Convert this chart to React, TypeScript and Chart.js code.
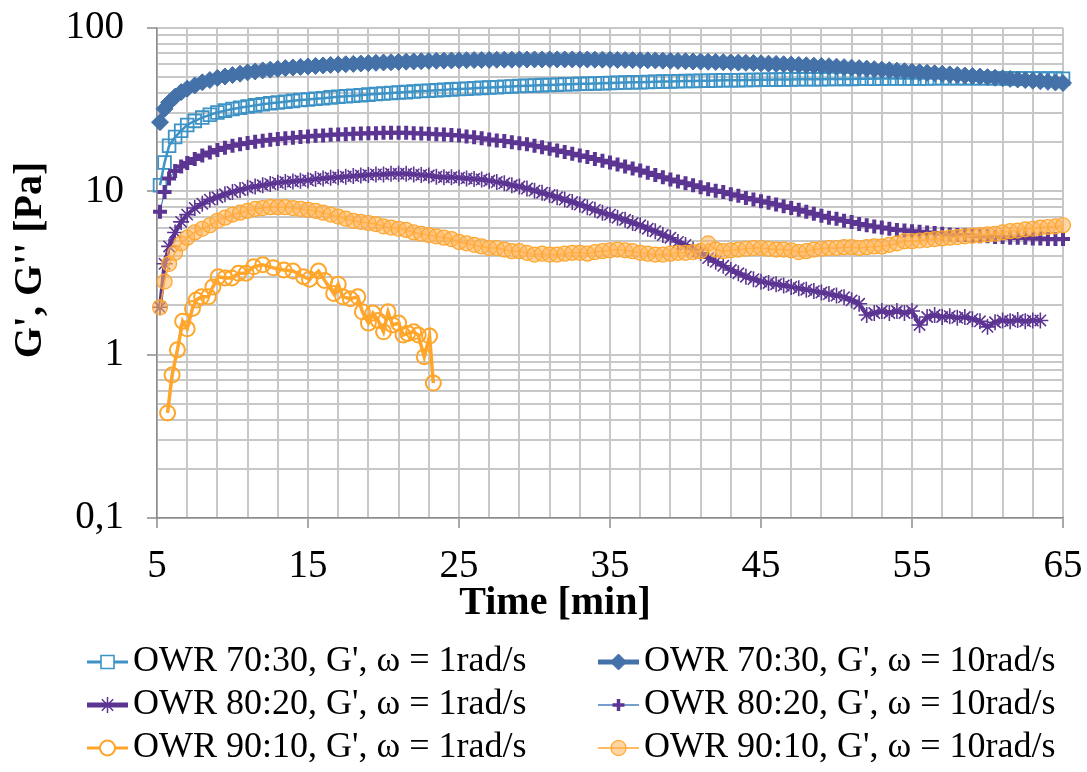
import React, { useEffect, useRef } from "react";
import { Chart, registerables } from "chart.js";

Chart.register(...registerables);

const FONT = "'Liberation Serif', 'Times New Roman', serif";

// Time grid (min) shared by the long series
const TIME = [5.2, 5.5, 5.8, 6.2, 6.6,
  7, 7.5, 8, 8.5, 9, 9.5,
  10, 10.5, 11, 11.5, 12, 12.5, 13, 13.5, 14, 14.5,
  15, 15.5, 16, 16.5, 17, 17.5, 18, 18.5, 19, 19.5,
  20, 20.5, 21, 21.5, 22, 22.5, 23, 23.5, 24, 24.5,
  25, 25.5, 26, 26.5, 27, 27.5, 28, 28.5, 29, 29.5,
  30, 30.5, 31, 31.5, 32, 32.5, 33, 33.5, 34, 34.5,
  35, 35.5, 36, 36.5, 37, 37.5, 38, 38.5, 39, 39.5,
  40, 40.5, 41, 41.5, 42, 42.5, 43, 43.5, 44, 44.5,
  45, 45.5, 46, 46.5, 47, 47.5, 48, 48.5, 49, 49.5,
  50, 50.5, 51, 51.5, 52, 52.5, 53, 53.5, 54, 54.5,
  55, 55.5, 56, 56.5, 57, 57.5, 58, 58.5, 59, 59.5,
  60, 60.5, 61, 61.5, 62, 62.5, 63, 63.5, 64, 64.5,
  65];

// OWR 70:30, G', 1 rad/s
const G70_1 = [10.9, 15, 19, 21.5, 23.5,
  25.5, 27, 28.3, 29.4, 30.4, 31.2,
  31.9, 32.5, 33.1, 33.6, 34.1, 34.6, 35, 35.4, 35.8, 36.2,
  36.5, 36.9, 37.2, 37.6, 37.9, 38.2, 38.5, 38.8, 39.1, 39.4,
  39.7, 40, 40.3, 40.5, 40.8, 41.1, 41.3, 41.6, 41.8, 42.1,
  42.3, 42.5, 42.8, 43, 43.2, 43.4, 43.7, 43.9, 44.1, 44.3,
  44.5, 44.7, 44.8, 45, 45.2, 45.3, 45.5, 45.6, 45.8, 45.9,
  46.1, 46.2, 46.4, 46.5, 46.6, 46.7, 46.9, 47, 47.1, 47.2,
  47.3, 47.4, 47.5, 47.6, 47.7, 47.8, 47.9, 47.9, 48, 48.1,
  48.2, 48.2, 48.3, 48.4, 48.4, 48.5, 48.5, 48.6, 48.6, 48.7,
  48.7, 48.8, 48.8, 48.9, 48.9, 48.9, 49, 49, 49, 49.1,
  49.1, 49.1, 49.1, 49.2, 49.2, 49.2, 49.2, 49.2, 49.2, 49.2,
  49.2, 49.2, 49.2, 49.1, 49.1, 49.1, 49.1, 49, 49, 49,
  48.9];

// OWR 70:30, G', 10 rad/s
const G70_10 = [26.5, 32, 35, 38, 40.5,
  42.5, 44.5, 46.5, 48, 49.5, 50.5,
  51.5, 52.5, 53.5, 54.2, 55, 55.6, 56.2, 56.8, 57.3, 57.8,
  58.2, 58.6, 59, 59.4, 59.7, 60, 60.3, 60.6, 60.9, 61.2,
  61.5, 61.7, 62, 62.2, 62.4, 62.6, 62.8, 63, 63.1, 63.3,
  63.4, 63.5, 63.6, 63.7, 63.8, 63.9, 64, 64, 64.1, 64.1,
  64.2, 64.2, 64.2, 64.2, 64.2, 64.2, 64.1, 64.1, 64, 64,
  63.9, 63.8, 63.7, 63.6, 63.5, 63.4, 63.3, 63.1, 63, 62.8,
  62.6, 62.4, 62.3, 62.1, 62, 61.8, 61.6, 61.4, 61.2, 61,
  60.8, 60.5, 60.3, 60, 59.7, 59.4, 59.1, 58.8, 58.5, 58.3,
  58, 57.6, 57.2, 56.8, 56.4, 56, 55.6, 55.2, 54.8, 54.4,
  54, 53.6, 53.2, 52.8, 52.4, 52, 51.6, 51.2, 50.8, 50.4,
  50, 49.6, 49.2, 48.8, 48.4, 48, 47.6, 47.2, 46.8, 46.4,
  46];

// OWR 80:20, G', 1 rad/s (ends at 63.5 min)
const G80_1 = [1.95, 3.6, 4.6, 5.6, 6.5,
  7.2, 7.9, 8.4, 8.9, 9.2, 9.6,
  9.9, 10.2, 10.5, 10.7, 10.9, 11.1, 11.3, 11.4, 11.5, 11.6,
  11.7, 11.9, 12, 12.1, 12.2, 12.3, 12.4, 12.5, 12.6, 12.7,
  12.7, 12.8, 12.8, 12.8, 12.7, 12.6, 12.5, 12.3, 12.2, 12.2,
  12.1, 12, 11.9, 11.8, 11.6, 11.4, 11.2, 10.9, 10.7, 10.4,
  10.1, 9.8, 9.5, 9.2, 8.9, 8.6, 8.3, 8, 7.7, 7.4,
  7.2, 6.9, 6.7, 6.4, 6.2, 5.9, 5.7, 5.4, 5.2, 4.9,
  4.7, 4.4, 4.2, 3.9, 3.7, 3.5, 3.3, 3.15, 3, 2.9,
  2.8, 2.75, 2.7, 2.65, 2.6, 2.55, 2.5, 2.45, 2.4, 2.35,
  2.3, 2.25, 2.15, 2.05, 1.75, 1.8, 1.85, 1.8, 1.85, 1.8,
  1.85, 1.52, 1.7, 1.75, 1.7, 1.72, 1.68, 1.7, 1.65, 1.6,
  1.48, 1.58, 1.62, 1.6, 1.63, 1.6, 1.62, 1.62];

// OWR 80:20, G', 10 rad/s
const G80_10 = [7.5, 9.9, 12, 13.3, 14.2,
  14.9, 15.8, 16.6, 17.3, 17.9, 18.5,
  19, 19.4, 19.8, 20.1, 20.4, 20.7, 20.9, 21.1, 21.3, 21.5,
  21.7, 21.9, 22, 22.2, 22.3, 22.4, 22.5, 22.6, 22.7, 22.7,
  22.8, 22.8, 22.8, 22.8, 22.7, 22.6, 22.5, 22.4, 22.3, 22.1,
  22, 21.7, 21.4, 21.1, 20.8, 20.5, 20.3, 20, 19.7, 19.4,
  19, 18.6, 18.2, 17.8, 17.4, 17, 16.6, 16.2, 15.8, 15.4,
  15, 14.6, 14.2, 13.8, 13.4, 13, 12.6, 12.2, 11.8, 11.5,
  11.2, 10.9, 10.6, 10.3, 10.1, 9.9, 9.6, 9.4, 9.1, 8.9,
  8.7, 8.5, 8.3, 8.1, 7.9, 7.7, 7.5, 7.3, 7.1, 6.9,
  6.8, 6.6, 6.5, 6.3, 6.2, 6.1, 6, 5.9, 5.8, 5.75,
  5.7, 5.65, 5.6, 5.55, 5.5, 5.45, 5.4, 5.4, 5.35, 5.3,
  5.3, 5.25, 5.25, 5.2, 5.2, 5.2, 5.15, 5.15, 5.1, 5.1,
  5.1];

// OWR 90:10, G', 10 rad/s
const G90_10 = [1.95, 2.8, 3.6, 4.2, 4.8,
  5.2, 5.6, 5.9, 6.2, 6.6, 6.9,
  7.2, 7.4, 7.6, 7.8, 7.9, 8, 8, 8, 7.9, 7.8,
  7.7, 7.6, 7.4, 7.2, 7, 6.8, 6.6, 6.5, 6.4, 6.3,
  6.1, 6, 5.9, 5.8, 5.6, 5.5, 5.4, 5.3, 5.2, 5.1,
  4.9, 4.8, 4.7, 4.6, 4.5, 4.5, 4.4, 4.3, 4.3, 4.2,
  4.1, 4.15, 4.1, 4.1, 4.15, 4.2, 4.2, 4.15, 4.25, 4.3,
  4.35, 4.4, 4.35, 4.3, 4.2, 4.15, 4.1, 4.1, 4.15, 4.2,
  4.2, 4.25, 4.3, 4.8, 4.4, 4.3, 4.35, 4.4, 4.45, 4.5,
  4.5, 4.45, 4.4, 4.4, 4.35, 4.25, 4.3, 4.4, 4.45, 4.5,
  4.5, 4.55, 4.55, 4.5, 4.55, 4.6, 4.6, 4.7, 4.8, 4.95,
  4.95, 5, 5.05, 5.1, 5.15, 5.2, 5.25, 5.3, 5.35, 5.4,
  5.45, 5.5, 5.6, 5.7, 5.75, 5.85, 5.9, 6, 6.05, 6.1,
  6.2];

// OWR 90:10, G', 1 rad/s (own time base)
const TIME_90_1 = [5.7, 6.0, 6.35, 6.7, 7.0, 7.35, 7.6, 7.95, 8.4, 8.7,
  9.05, 9.5, 9.95, 10.4, 10.9, 11.4, 12.0, 12.7, 13.4, 14.0,
  14.7, 15.1, 15.7, 16.1, 16.7, 17.0, 17.3, 17.8, 18.3, 18.6,
  19.0, 19.3, 19.65, 20.0, 20.3, 20.6, 21.0, 21.3, 21.6, 22.0,
  22.3, 22.7, 23.05, 23.3];
const G90_1 = [0.44, 0.75, 1.07, 1.6, 1.44, 1.92, 2.16, 2.26, 2.26, 2.6,
  3.0, 2.95, 2.95, 3.15, 3.15, 3.45, 3.55, 3.4, 3.3, 3.25,
  3.0, 2.9, 3.25, 2.85, 2.37, 2.7, 2.26, 2.2, 2.26, 1.83,
  1.56, 1.8, 1.62, 1.38, 1.83, 1.52, 1.56, 1.32, 1.35, 1.38,
  1.32, 0.97, 1.3, 0.67];

// Axes
const X_GRID = [5, 7, 9, 11, 13, 15, 17, 19, 21, 23, 25, 27, 29, 31, 33, 35, 37, 39, 41, 43, 45,
  47, 49, 51, 53, 55, 57, 59, 61, 63, 65];
const X_LABELS = [5, 15, 25, 35, 45, 55, 65];
const Y_GRID = [0.1, 0.2, 0.3, 0.4, 0.5, 0.6, 0.7, 0.8, 0.9,
  1, 2, 3, 4, 5, 6, 7, 8, 9,
  10, 20, 30, 40, 50, 60, 70, 80, 90, 100];
const Y_MAJOR = [0.1, 1, 10, 100];
const Y_LABELS = ["0,1", "1", "10", "100"];
const X_TITLE = "Time [min]";
const Y_TITLE = "G', G'' [Pa]";

const NAMES = [
  "OWR 70:30, G', \u03c9 = 1rad/s",
  "OWR 70:30, G', \u03c9 = 10rad/s",
  "OWR 80:20, G', \u03c9 = 1rad/s",
  "OWR 80:20, G', \u03c9 = 10rad/s",
  "OWR 90:10, G', \u03c9 = 1rad/s",
  "OWR 90:10, G', \u03c9 = 10rad/s",
];

const C_LBLUE = "#3D93C6";
const C_BLUE = "#4471A8";
const C_PURPLE = "#5C3593";
const C_THINBLUE = "#4A7EBB";
const C_ORANGE = "#FFA52A";
const C_ORANGE_FILL = "rgba(255,178,85,0.55)";
const GRID = "#C8C8C8";
const AXIS = "#8C8C8C";

function pts(t: number[], v: number[]) {
  return v.map((y, i) => ({ x: t[i], y }));
}

type LegendItem = {
  line: string; lineWidth: number; style: string; r: number;
  stroke: string; fill: string | null; markerWidth: number;
};

const LEGEND: LegendItem[] = [
  { line: C_LBLUE, lineWidth: 3, style: "rect", r: 6.5, stroke: C_LBLUE, fill: "#ffffff", markerWidth: 1.6 },
  { line: C_BLUE, lineWidth: 5, style: "rectRot", r: 8, stroke: C_BLUE, fill: C_BLUE, markerWidth: 1 },
  { line: C_PURPLE, lineWidth: 5, style: "star", r: 8, stroke: C_PURPLE, fill: null, markerWidth: 1.5 },
  { line: C_THINBLUE, lineWidth: 1.5, style: "cross", r: 6, stroke: C_PURPLE, fill: null, markerWidth: 3.5 },
  { line: C_ORANGE, lineWidth: 3, style: "circle", r: 7.5, stroke: C_ORANGE, fill: "#ffffff", markerWidth: 2 },
  { line: C_ORANGE, lineWidth: 1.5, style: "circle", r: 7.5, stroke: C_ORANGE, fill: C_ORANGE_FILL, markerWidth: 1.2 },
];

function drawMarker(ctx: CanvasRenderingContext2D, it: LegendItem, x: number, y: number) {
  const r = it.r;
  ctx.lineWidth = it.markerWidth;
  ctx.strokeStyle = it.stroke;
  ctx.beginPath();
  if (it.style === "rect") {
    ctx.rect(x - r, y - r, 2 * r, 2 * r);
  } else if (it.style === "rectRot") {
    ctx.moveTo(x, y - r); ctx.lineTo(x + r, y); ctx.lineTo(x, y + r); ctx.lineTo(x - r, y); ctx.closePath();
  } else if (it.style === "circle") {
    ctx.arc(x, y, r, 0, Math.PI * 2);
  } else if (it.style === "cross") {
    ctx.moveTo(x - r, y); ctx.lineTo(x + r, y); ctx.moveTo(x, y - r); ctx.lineTo(x, y + r);
  } else if (it.style === "star") {
    const d = r * Math.SQRT1_2;
    ctx.moveTo(x - r, y); ctx.lineTo(x + r, y); ctx.moveTo(x, y - r); ctx.lineTo(x, y + r);
    ctx.moveTo(x - d, y - d); ctx.lineTo(x + d, y + d); ctx.moveTo(x - d, y + d); ctx.lineTo(x + d, y - d);
  }
  if (it.fill) { ctx.fillStyle = it.fill; ctx.fill(); }
  ctx.stroke();
}

const legendPlugin = {
  id: "owrLegend",
  afterDraw(chart: any) {
    const ctx: CanvasRenderingContext2D = chart.ctx;
    const area = chart.chartArea;
    ctx.save();
    // axis titles (placed as in the original figure)
    ctx.fillStyle = "#000";
    ctx.font = `bold 40px ${FONT}`;
    ctx.textAlign = "center";
    ctx.textBaseline = "middle";
    ctx.fillText(X_TITLE, area.left + 398, area.bottom + 86);
    ctx.save();
    ctx.translate(31, area.top + 232);
    ctx.rotate(-Math.PI / 2);
    ctx.fillText(Y_TITLE, 0, 0);
    ctx.restore();

    // legend
    ctx.font = `36px ${FONT}`;
    ctx.textAlign = "left";
    LEGEND.forEach((it, i) => {
      const col = i % 2;
      const row = Math.floor(i / 2);
      const x0 = col === 0 ? 87 : 598;
      const y = 662 + row * 43;
      ctx.beginPath();
      ctx.strokeStyle = it.line;
      ctx.lineWidth = it.lineWidth;
      ctx.moveTo(x0, y);
      ctx.lineTo(x0 + 41, y);
      ctx.stroke();
      drawMarker(ctx, it, x0 + 20.5, y);
      ctx.fillStyle = "#000";
      ctx.fillText(NAMES[i], x0 + 46, y);
    });
    ctx.restore();
  },
};

export default function App() {
  const ref = useRef<HTMLCanvasElement>(null);
  useEffect(() => {
    document.body.style.margin = "0";
    const canvas = ref.current!;
    const chart = new Chart(canvas, {
      type: "line",
      data: {
        datasets: [
          {
            label: NAMES[0], data: pts(TIME, G70_1), borderColor: C_LBLUE, borderWidth: 2.5,
            pointStyle: "rect", pointRadius: 9, pointBorderColor: C_LBLUE, pointBackgroundColor: "rgba(0,0,0,0)",
            pointBorderWidth: 1.8, order: 6, clip: false as any, tension: 0,
          },
          {
            label: NAMES[1], data: pts(TIME, G70_10), borderColor: C_BLUE, borderWidth: 4,
            pointStyle: "rectRot", pointRadius: 8.5, pointBorderColor: C_BLUE, pointBackgroundColor: C_BLUE,
            pointBorderWidth: 1, order: 5, clip: false as any, tension: 0,
          },
          {
            label: NAMES[2], data: pts(TIME, G80_1), borderColor: C_PURPLE, borderWidth: 4,
            pointStyle: "star", pointRadius: 8, pointBorderColor: C_PURPLE, pointBackgroundColor: C_PURPLE,
            pointBorderWidth: 1.6, order: 4, clip: false as any, tension: 0,
          },
          {
            label: NAMES[3], data: pts(TIME, G80_10), borderColor: C_THINBLUE, borderWidth: 1.2,
            pointStyle: "cross", pointRadius: 7, pointBorderColor: C_PURPLE, pointBackgroundColor: C_PURPLE,
            pointBorderWidth: 4, order: 3, clip: false as any, tension: 0,
          },
          {
            label: NAMES[4], data: pts(TIME_90_1, G90_1), borderColor: C_ORANGE, borderWidth: 3.5,
            pointStyle: "circle", pointRadius: 7.5, pointBorderColor: C_ORANGE, pointBackgroundColor: "rgba(0,0,0,0)",
            pointBorderWidth: 2, order: 2, clip: false as any, tension: 0,
          },
          {
            label: NAMES[5], data: pts(TIME, G90_10), borderColor: C_ORANGE, borderWidth: 1.5,
            pointStyle: "circle", pointRadius: 7.5, pointBorderColor: C_ORANGE, pointBackgroundColor: C_ORANGE_FILL,
            pointBorderWidth: 1.2, order: 1, clip: false as any, tension: 0,
          },
        ],
      },
      options: {
        responsive: false,
        animation: false,
        devicePixelRatio: 1,
        layout: { padding: { left: 0, right: 24, top: 28, bottom: 132 } },
        plugins: { legend: { display: false }, tooltip: { enabled: false } },
        scales: {
          x: {
            type: "linear",
            min: 5,
            max: 65,
            afterBuildTicks: (s: any) => { s.ticks = X_GRID.map((v) => ({ value: v })); },
            afterFit: (s: any) => { s.height = 122; s.paddingLeft = 10; s.paddingRight = 10; },
            ticks: {
              autoSkip: false, maxRotation: 0, padding: 15, color: "#000",
              font: { family: FONT, size: 39 },
              callback: (v: any) => (X_LABELS.includes(Number(v)) ? String(v) : ""),
            },
            grid: {
              color: GRID, lineWidth: 2, tickLength: 10, tickWidth: 1.5,
              tickColor: (c: any) => (c.tick && X_LABELS.includes(c.tick.value) ? AXIS : "rgba(0,0,0,0)"),
            },
            border: { color: AXIS, width: 1.5 },
            title: { display: false },
          },
          y: {
            type: "logarithmic",
            min: 0.1,
            max: 100,
            afterBuildTicks: (s: any) => { s.ticks = Y_GRID.map((v) => ({ value: v })); },
            afterFit: (s: any) => { s.width = 157; s.paddingTop = 10; s.paddingBottom = 10; },
            ticks: {
              autoSkip: false, padding: 23, color: "#000",
              font: { family: FONT, size: 39 },
              callback: (v: any) => {
                const k = Y_MAJOR.indexOf(Number(v));
                return k >= 0 ? Y_LABELS[k] : "";
              },
            },
            grid: {
              color: GRID, lineWidth: 2, tickLength: 10, tickWidth: 1.5,
              tickColor: (c: any) => (c.tick && Y_MAJOR.includes(c.tick.value) ? AXIS : "rgba(0,0,0,0)"),
            },
            border: { color: AXIS, width: 1.5 },
            title: { display: false },
          },
        },
      } as any,
      plugins: [legendPlugin],
    });
    return () => chart.destroy();
  }, []);
  return (
    <div style={{ width: 1087, height: 772 }}>
      <canvas ref={ref} width={1087} height={772} style={{ display: "block" }} />
    </div>
  );
}
